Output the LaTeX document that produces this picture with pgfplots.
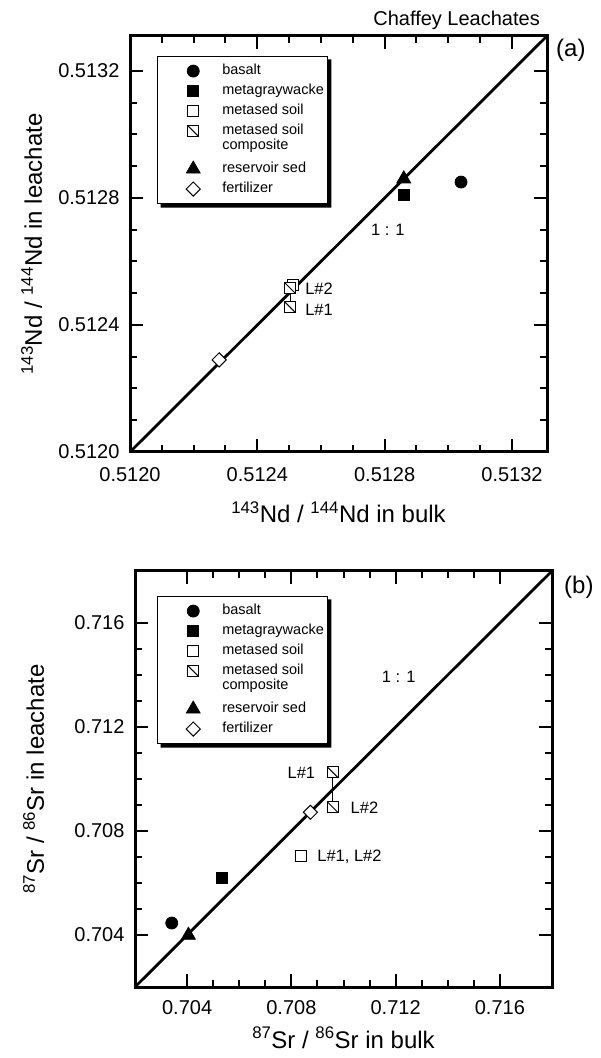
\documentclass[border=0pt]{standalone}
\usepackage{pgfplots}
\pgfplotsset{compat=1.18}
\usepackage{fontspec}
\setmainfont{Liberation Sans}

\pgfdeclareplotmark{sqdiag}{%
  \pgfpathrectangle{\pgfqpoint{-\pgfplotmarksize}{-\pgfplotmarksize}}{\pgfqpoint{2\pgfplotmarksize}{2\pgfplotmarksize}}%
  \pgfusepathqfillstroke
  \pgfpathmoveto{\pgfqpoint{-\pgfplotmarksize}{\pgfplotmarksize}}%
  \pgfpathlineto{\pgfqpoint{\pgfplotmarksize}{-\pgfplotmarksize}}%
  \pgfusepathqstroke
}

\newcommand{\fs}[1]{\fontsize{#1}{#1}\selectfont}
\newcommand{\legshadow}[1]{%
  \fill[black] ([yshift=-3.5pt]#1.north east) -- ([xshift=3.5pt,yshift=-3.5pt]#1.north east)
     -- ([xshift=3.5pt,yshift=-3.5pt]#1.south east) -- ([xshift=3.5pt,yshift=-3.5pt]#1.south west)
     -- ([xshift=3.5pt]#1.south west) -- (#1.south east) -- cycle;}

\pgfplotsset{
  chartbase/.style={
    scale only axis, width=417pt, height=416pt,
    axis line style={line width=3pt},
    tick align=inside,
    major tick length=13pt, minor tick length=7pt,
    every tick/.style={black, line width=2pt},
    minor tick num=3,
    scaled ticks=false,
    tick label style={font=\fs{20pt}},
    xticklabel shift=12pt, yticklabel shift=7pt,
    clip=false,
    legend cell align=left,
    legend style={anchor=north west, draw=black, line width=1.2pt, fill=white,
       font=\fs{14.5pt}, inner xsep=2.5pt, inner ysep=6pt, row sep=3pt, column sep=0pt,
       nodes={inner sep=1pt, text height=11pt, text depth=4pt}},
    legend image code/.code={\draw[white, line width=0.1pt] (-33pt,0pt) -- (28pt,0pt); \draw[##1] plot coordinates {(0pt,0pt)};},
  },
  basalt/.style={only marks, mark=*, mark size=6pt, mark options={draw=black, fill=black, line width=0.8pt}},
  mgw/.style={only marks, mark=square*, mark size=5.5pt, mark options={draw=black, fill=black, line width=0.8pt}},
  soil/.style={only marks, mark=square*, mark size=5.5pt, mark options={draw=black, fill=white, line width=1pt}},
  comp/.style={only marks, mark=sqdiag, mark size=5.5pt, mark options={draw=black, fill=white, line width=1pt}},
  res/.style={only marks, mark=triangle*, mark size=8pt, mark options={draw=black, fill=black, line width=0.8pt}},
  fert/.style={only marks, mark=square*, mark size=5pt, mark options={rotate=45, draw=black, fill=white, line width=1pt}},
}

\begin{document}
\begin{tikzpicture}
\useasboundingbox (0,0) rectangle (600pt,1058pt);

% ---------------- panel (a)
\begin{axis}[chartbase,
  at={(130pt,606pt)}, anchor=south west,
  xmin=0.5120, xmax=0.51331, ymin=0.5120, ymax=0.51331,
  xtick={0.5120,0.5124,0.5128,0.5132}, ytick={0.5120,0.5124,0.5128,0.5132},
  xticklabels={0.5120,0.5124,0.5128,0.5132}, yticklabels={0.5120,0.5124,0.5128,0.5132},
  legend style={at={(0.065,0.952)}, name=legA},
]
\addlegendimage{basalt}\addlegendentry{basalt}
\addlegendimage{mgw}\addlegendentry{metagraywacke}
\addlegendimage{soil}\addlegendentry{metased soil}
\addlegendimage{comp}\addlegendentry{metased soil}
\addlegendimage{empty legend}\addlegendentry[text height=6pt, text depth=7pt]{composite}
\addlegendimage{res}\addlegendentry{reservoir sed}
\addlegendimage{fert}\addlegendentry{fertilizer}

\addplot[forget plot, no marks, line width=2.8pt] coordinates {(0.5120,0.5120) (0.51331,0.51331)};
\addplot[forget plot, no marks, line width=1pt] coordinates {(0.512503,0.512516) (0.512503,0.512456)};
\addplot[forget plot, basalt] coordinates {(0.51304,0.51285)};
\addplot[forget plot, mgw] coordinates {(0.51286,0.51281)};
\addplot[forget plot, soil] coordinates {(0.512513,0.512525)};
\addplot[forget plot, comp] coordinates {(0.512503,0.512516) (0.512503,0.512456)};
\addplot[forget plot, res] coordinates {(0.51286,0.51286)};
\addplot[forget plot, fert] coordinates {(0.51228,0.51229)};

\node[anchor=west, inner sep=0, font=\fs{16.5pt}] at (axis cs:0.51255,0.512513) {L\#2};
\node[anchor=west, inner sep=0, font=\fs{16.5pt}] at (axis cs:0.51255,0.512447) {L\#1};
\node[inner sep=0, font=\fs{16.5pt}] at (axis cs:0.51281,0.51270) {1 : 1};
\node[anchor=base east, inner sep=0, font=\fs{20pt}] at ([xshift=-7pt, yshift=10pt]rel axis cs:1,1) {Chaffey Leachates};
\node[anchor=west, inner sep=0, font=\fs{24pt}] at ([xshift=9pt, yshift=-14pt]rel axis cs:1,1) {(a)};
\node[anchor=base, inner sep=0, font=\fs{24pt}] at ([yshift=-71pt]rel axis cs:0.5,0) {\textsuperscript{143}Nd / \textsuperscript{144}Nd in bulk};
\node[anchor=base, rotate=90, inner sep=0, font=\fs{24pt}] at ([xshift=-88pt]rel axis cs:0,0.5) {\textsuperscript{143}Nd / \textsuperscript{144}Nd in leachate};
\end{axis}
\legshadow{legA}

% ---------------- panel (b)
\begin{axis}[chartbase,
  at={(135pt,71pt)}, anchor=south west,
  xmin=0.702, xmax=0.718, ymin=0.702, ymax=0.718,
  xtick={0.704,0.708,0.712,0.716}, ytick={0.704,0.708,0.712,0.716},
  xticklabels={0.704,0.708,0.712,0.716}, yticklabels={0.704,0.708,0.712,0.716},
  xticklabel shift=10pt,
  legend style={at={(0.053,0.94)}, name=legB},
]
\addlegendimage{basalt}\addlegendentry{basalt}
\addlegendimage{mgw}\addlegendentry{metagraywacke}
\addlegendimage{soil}\addlegendentry{metased soil}
\addlegendimage{comp}\addlegendentry{metased soil}
\addlegendimage{empty legend}\addlegendentry[text height=6pt, text depth=7pt]{composite}
\addlegendimage{res}\addlegendentry{reservoir sed}
\addlegendimage{fert}\addlegendentry{fertilizer}

\addplot[forget plot, no marks, line width=2.8pt] coordinates {(0.702,0.702) (0.718,0.718)};
\addplot[forget plot, no marks, line width=1pt] coordinates {(0.70959,0.71025) (0.70959,0.70891)};
\addplot[forget plot, basalt] coordinates {(0.70341,0.70446)};
\addplot[forget plot, mgw] coordinates {(0.70533,0.70619)};
\addplot[forget plot, soil] coordinates {(0.70838,0.70703)};
\addplot[forget plot, comp] coordinates {(0.70959,0.71025) (0.70959,0.70891)};
\addplot[forget plot, res] coordinates {(0.70405,0.70399)};
\addplot[forget plot, fert] coordinates {(0.70873,0.70872)};

\node[anchor=east, inner sep=0, font=\fs{16.5pt}] at (axis cs:0.70892,0.71025) {L\#1};
\node[anchor=west, inner sep=0, font=\fs{16.5pt}] at (axis cs:0.71027,0.70890) {L\#2};
\node[anchor=west, inner sep=0, font=\fs{16.5pt}] at (axis cs:0.70899,0.70702) {L\#1, L\#2};
\node[inner sep=0, font=\fs{16.5pt}] at (axis cs:0.71212,0.71392) {1 : 1};
\node[anchor=west, inner sep=0, font=\fs{24pt}] at ([xshift=12pt, yshift=-16pt]rel axis cs:1,1) {(b)};
\node[anchor=base, inner sep=0, font=\fs{24pt}] at ([yshift=-61pt]rel axis cs:0.5,0) {\textsuperscript{87}Sr / \textsuperscript{86}Sr in bulk};
\node[anchor=base, rotate=90, inner sep=0, font=\fs{24pt}] at ([xshift=-91pt]rel axis cs:0,0.5) {\textsuperscript{87}Sr / \textsuperscript{86}Sr in leachate};
\end{axis}
\legshadow{legB}
\end{tikzpicture}
\end{document}
